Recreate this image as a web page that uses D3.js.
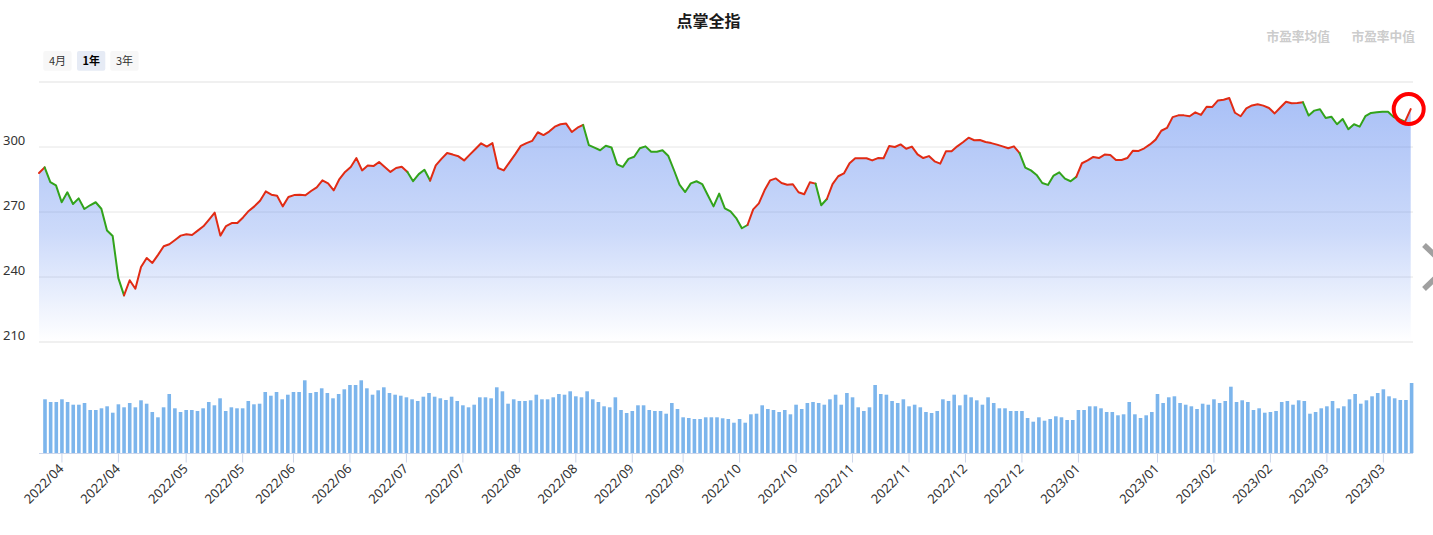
<!DOCTYPE html>
<html>
<head>
<meta charset="utf-8">
<script src="https://cdn.jsdelivr.net/npm/d3@7"></script>
<style>
  html, body { margin: 0; padding: 0; background: #fff; }
  svg { display: block; }
</style>
</head>
<body>
<svg id="chart" width="1433" height="535"></svg>
<script>
// ---------------- DATA ----------------
const chartTitle = "点掌全指";
const legendItems = ["市盈率均值", "市盈率中值"];
const rangeButtons = ["4月", "1年", "3年"];
const selectedButton = "1年";

const indexValues = [
  288.0,290.6,283.8,282.3,274.5,279.1,273.7,276.3,271.4,273.1,
  274.5,271.5,261.5,258.9,239.5,231.5,238.5,234.6,244.6,248.8,
  246.5,250.2,254.2,255.1,257.1,259.1,259.7,259.4,261.4,263.4,
  266.5,269.7,259.1,263.5,264.9,264.9,267.5,270.5,272.6,275.2,
  279.5,278.0,277.5,272.6,276.9,277.8,278.0,277.7,279.7,281.4,
  284.6,283.2,280.0,285.2,288.5,290.8,294.9,289.2,291.5,291.2,
  293.1,290.8,288.5,290.3,290.9,288.5,284.2,287.5,289.5,284.5,
  291.5,294.5,297.2,296.5,295.7,293.8,296.5,299.1,301.7,300.2,
  301.8,290.3,289.2,292.9,296.6,300.5,301.8,302.8,306.8,305.5,
  307.1,309.4,310.5,310.8,306.9,308.9,310.2,300.9,299.7,298.5,
  300.6,299.8,292.0,290.8,294.5,295.5,299.4,300.3,297.8,297.8,
  298.5,296.0,289.5,282.6,279.2,283.2,284.2,282.9,277.7,272.6,
  278.5,271.7,270.3,267.2,262.5,264.0,271.2,274.0,280.0,284.6,
  285.5,283.4,282.6,282.8,279.1,278.2,283.7,283.1,273.1,276.0,
  282.9,286.5,287.8,292.5,294.8,294.8,294.8,293.8,294.9,294.8,
  300.5,300.0,301.2,299.2,300.2,296.6,294.9,295.8,293.4,292.3,
  298.0,298.0,300.3,302.2,304.3,303.1,303.2,302.3,301.8,301.1,
  300.3,299.4,300.3,297.2,290.5,289.2,287.1,283.4,282.5,286.8,
  288.3,285.4,284.2,286.2,292.5,293.8,295.4,294.9,296.5,296.3,
  294.0,294.0,294.9,298.3,298.2,299.4,301.2,303.4,307.5,308.8,
  313.8,314.6,314.6,314.2,316.0,314.8,318.6,318.5,321.5,321.8,
  322.6,315.8,314.2,317.8,319.2,319.7,319.1,318.0,315.5,318.2,
  320.9,320.2,320.3,320.6,314.5,316.8,317.4,313.4,314.0,310.5,
  312.9,308.2,310.5,309.4,314.2,315.7,316.0,316.3,316.3,313.8,
  312.9,311.7,317.5
];

const volumeValues = [
  53.7,51,51,53.7,51,48.3,48.3,50,43,43,
  44.7,46.7,40.3,48.7,45.7,50,45.7,52.7,49.3,41,
  35.7,45.7,59,44.7,41,43,43,42,44.7,51,
  47.7,54.7,42,45.7,44.7,44.7,52,48.7,49.3,61,
  57.3,61,53.7,58.3,61,61,72.7,60,61,64.7,
  60,54.7,59,63.7,68,68,72.7,64.7,58.3,62.7,
  65.7,60,58.3,57.3,55.7,53.7,52,56.3,60,56.3,
  54.7,53,56.3,52,47.7,45.7,48.3,55.7,55.7,54.7,
  65.7,61.7,49.3,53.7,52,52,52.7,58.3,53.7,53.7,
  55.7,59,58.3,61.7,56.7,55.7,61.7,53.7,51,46.7,
  45.7,55.7,43,40,42,47.7,47.7,43,42,42,
  39.3,50,44,35.7,35,34,34,35.7,35.7,35.7,
  34.7,34,30.3,34,30.3,38.7,39.3,47.7,44,43,
  41,43,38.7,48.3,44,50,51,50,48.3,53.7,
  58.3,48.3,60,55.7,45.7,42,45.7,68,59,58.3,
  52,50,53.7,46.7,48.3,45.7,41,40,42,53.7,
  52,58.3,47.7,58.3,55.7,52.7,48.3,55.7,50,44.7,
  44.7,42,42,42,35,31.3,35.7,32.3,34,36.7,
  35.7,33,33,43,43,46.7,46.7,44.7,41,41,
  37.7,38.7,51,38.7,35,37.7,41,59,50,55.7,
  56.7,50,48.3,46.7,44,49.3,48.3,53.7,50,52,
  66.3,51,52.7,51,43,44.7,40.3,41,42,51,
  52,48.3,52.7,52,39.3,41,44.7,46.7,52,44.7,
  46.7,53.7,59,49.3,52.7,56.7,60,63.7,56.7,54.7,
  53,53,70
];

// x-axis labels (category index -> label)
const tickIndex  = [3,13,25,35,44,54,64,74,84,94,104,113,123,133,143,153,163,173,183,197,207,217,227,237];
const tickLabels = ["2022/04","2022/04","2022/05","2022/05","2022/06","2022/06","2022/07","2022/07",
                    "2022/08","2022/08","2022/09","2022/09","2022/10","2022/10","2022/11","2022/11",
                    "2022/12","2022/12","2023/01","2023/01","2023/02","2023/02","2023/03","2023/03"];
const yTicks = [210, 240, 270, 300, 330];

// trend zones along the index: zone k spans [zoneBreaks[k], zoneBreaks[k+1]]
const zoneBreaks = [0,1,15,65,69,96,125,137,139,173,183,223,241,242];
const zoneTrend  = ["up","down","up","down","up","down","up","down","up","down","up","down","up"];

// ---------------- STYLE ----------------
const UP = "#e12b14", DOWN = "#32a31b";
const cjk = "'Noto Sans CJK SC', 'Noto Sans', sans-serif";
const num = "'Noto Sans', 'DejaVu Sans', sans-serif";

const svg = d3.select("#chart");
const idx = d3.range(indexValues.length);

// ---------------- SCALES ----------------
const xLine = d3.scalePoint().domain(idx).range([39, 1410.7]);
const yLine = d3.scaleLinear().domain([210, 330]).range([342, 82]);
const xVol  = d3.scalePoint().domain(idx).range([45, 1411.6]);
const yVol  = d3.scaleLinear().domain([0, 80]).range([453, 373]);

// ---------------- TITLE / LEGEND / BUTTONS ----------------
svg.append("text").attr("x", 708.5).attr("y", 27).attr("text-anchor", "middle")
  .attr("font-family", cjk).attr("font-size", 16).attr("font-weight", "bold")
  .attr("fill", "#1a1a1a").text(chartTitle);

const legendX = [1266.5, 1351.5];
legendItems.forEach((t, i) => {
  svg.append("text").attr("x", legendX[i]).attr("y", 40.5)
    .attr("font-family", cjk).attr("font-size", 12.7).attr("font-weight", "bold")
    .attr("fill", "#cccccc").text(t);
});

const btnX = [43.3, 77, 110.3];
rangeButtons.forEach((t, i) => {
  const sel = t === selectedButton;
  svg.append("rect").attr("x", btnX[i]).attr("y", 51).attr("width", 28.3).attr("height", 19.7)
    .attr("rx", 2).attr("fill", sel ? "#e6ebf5" : "#f7f7f7");
  svg.append("text").attr("x", btnX[i] + 14.2).attr("y", 65).attr("text-anchor", "middle")
    .attr("font-family", cjk).attr("font-size", 11).attr("font-weight", sel ? "bold" : "normal")
    .attr("fill", sel ? "#000" : "#333").text(t);
});

// ---------------- AREA ----------------
const defs = svg.append("defs");
const grad = defs.append("linearGradient").attr("id", "areaGrad")
  .attr("gradientUnits", "userSpaceOnUse").attr("x1", 0).attr("x2", 0)
  .attr("y1", yLine(d3.max(indexValues))).attr("y2", yLine(210));
grad.append("stop").attr("offset", "0%").attr("stop-color", "rgb(84,130,238)").attr("stop-opacity", 0.5);
grad.append("stop").attr("offset", "55%").attr("stop-color", "rgb(84,130,238)").attr("stop-opacity", 0.3);
grad.append("stop").attr("offset", "100%").attr("stop-color", "rgb(84,130,238)").attr("stop-opacity", 0.0);

// gridlines (under the semi-transparent area)
yTicks.forEach(v => {
  const edge = (v === 210 || v === 330);
  svg.append("line").attr("x1", 39).attr("x2", 1413)
    .attr("y1", yLine(v)).attr("y2", yLine(v))
    .attr("stroke", edge ? "#f0f0f0" : "#e6e6e6").attr("stroke-width", edge ? 2 : 1);
});

svg.append("path").datum(idx)
  .attr("d", d3.area().x(i => xLine(i)).y0(yLine(210)).y1(i => yLine(indexValues[i])))
  .attr("fill", "url(#areaGrad)");

// y labels
yTicks.filter(v => v < 330).forEach(v => {
  svg.append("text").attr("x", 3).attr("y", yLine(v) - 2)
    .attr("font-family", num).attr("font-size", 13).attr("fill", "#333").text(v);
});

// ---------------- LINE (zones) ----------------
const lineGen = d3.line().x(i => xLine(i)).y(i => yLine(indexValues[i]));
zoneTrend.forEach((tr, k) => {
  const seg = d3.range(zoneBreaks[k], zoneBreaks[k + 1] + 1);
  svg.append("path").datum(seg).attr("d", lineGen)
    .attr("fill", "none").attr("stroke", tr === "up" ? UP : DOWN)
    .attr("stroke-width", 2).attr("stroke-linejoin", "round").attr("stroke-linecap", "round");
});

// highlight last point
const last = idx[idx.length - 1];
svg.append("circle").attr("cx", xLine(last) - 2).attr("cy", yLine(indexValues[last]))
  .attr("r", 15).attr("fill", "none").attr("stroke", "#ff0000").attr("stroke-width", 4);

// right chevron (navigation arrow, partially cut off)
svg.append("path").attr("d", "M1424,245 L1447,267 L1424,289")
  .attr("fill", "none").attr("stroke", "#a0a0a0").attr("stroke-width", 5.5);

// ---------------- VOLUME ----------------
const barW = 3.6;
svg.append("g").selectAll("rect").data(idx).join("rect")
  .attr("x", i => xVol(i) - barW / 2).attr("width", barW)
  .attr("y", i => yVol(volumeValues[i])).attr("height", i => yVol(0) - yVol(volumeValues[i]))
  .attr("fill", "#7cb5ec");

svg.append("line").attr("x1", 39).attr("x2", 1413).attr("y1", 453.5).attr("y2", 453.5)
  .attr("stroke", "#ccd6eb").attr("stroke-width", 1);

const labelMap = new Map(tickIndex.map((t, k) => [t, tickLabels[k]]));
const axis = d3.axisBottom(xVol).tickValues(tickIndex).tickFormat(i => labelMap.get(i))
  .tickSize(9).tickSizeOuter(0).tickPadding(0);
const gx = svg.append("g").attr("transform", "translate(-0.5,453.5)").call(axis);
gx.select(".domain").remove();
gx.selectAll(".tick line").attr("stroke", "#ccd6eb");
gx.selectAll(".tick text")
  .attr("font-family", num).attr("font-size", 13).attr("fill", "#333")
  .attr("text-anchor", "end").attr("dy", null).attr("y", null)
  .attr("transform", "translate(2.5,16) rotate(-45)");
</script>
</body>
</html>
